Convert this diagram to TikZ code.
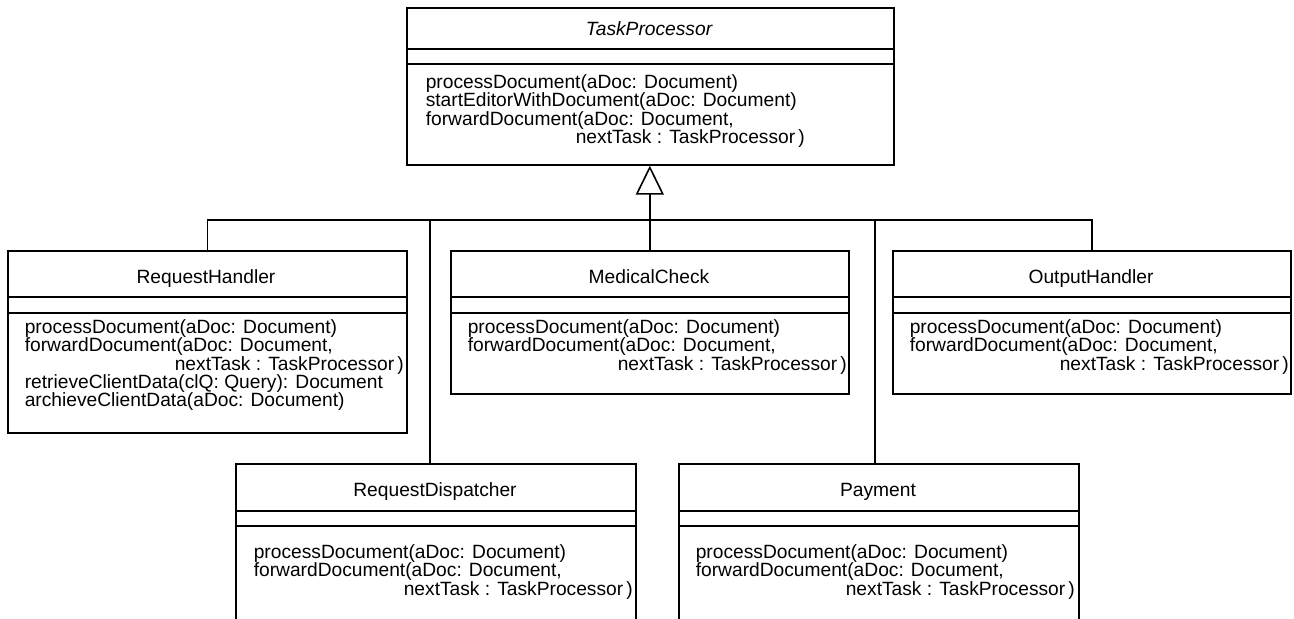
\documentclass[tikz,border=0pt]{standalone}
\usepackage{fontspec}
\setmainfont{Liberation Sans}
\usetikzlibrary{arrows.meta}

\newcommand{\umlfont}{\fontsize{9.6pt}{9.1pt}\selectfont}
\newcommand{\nexttask}{\hspace*{75pt}nextTask : TaskProcessor\,)}

\tikzset{
  umlclass/.style={draw, rectangle, inner sep=0pt, anchor=north west},
  umlname/.style={inner sep=0pt, anchor=base},
  umlops/.style={anchor=north west, align=left, inner sep=0pt},
  inherit/.style={-{Triangle[open, length=14.5pt, width=14pt]}},
}

\begin{document}
\begin{tikzpicture}[x=0.5pt, y=-0.5pt, line width=0.8pt, font=\umlfont]
    \useasboundingbox (0,0) rectangle (1294,618);
    \clip (0,0) rectangle (1294,618);
    % superclass
    \node[umlclass, minimum width=243.5pt, minimum height=78.5pt] (tp) at (406,7) {};
    \draw (tp.north west) ++(0,42) -- ++(487,0) ++(0,15) -- ++(-487,0);
    \node[umlname] (tpname) at (649,35) {\itshape TaskProcessor};
    \node[umlops] (tpops) at (425,74) {processDocument(aDoc: Document)\\startEditorWithDocument(aDoc: Document)\\forwardDocument(aDoc: Document,\\\nexttask};
    % subclasses, first row
    \node[umlclass, minimum width=199.5pt, minimum height=91pt] (rh) at (7,250) {};
    \draw (rh.north west) ++(0,47) -- ++(399,0) ++(0,16) -- ++(-399,0);
    \node[umlname] (rhname) at (206,283) {RequestHandler};
    \node[umlops] (rhops) at (24,319) {processDocument(aDoc: Document)\\forwardDocument(aDoc: Document,\\\nexttask\\retrieveClientData(clQ: Query): Document\\archieveClientData(aDoc: Document)};
    \node[umlclass, minimum width=199pt, minimum height=71.5pt] (mc) at (450,250) {};
    \draw (mc.north west) ++(0,47) -- ++(398,0) ++(0,16) -- ++(-398,0);
    \node[umlname] (mcname) at (649,283) {MedicalCheck};
    \node[umlops] (mcops) at (467,319) {processDocument(aDoc: Document)\\forwardDocument(aDoc: Document,\\\nexttask};
    \node[umlclass, minimum width=199pt, minimum height=71.5pt] (oh) at (892,250) {};
    \draw (oh.north west) ++(0,47) -- ++(398,0) ++(0,16) -- ++(-398,0);
    \node[umlname] (ohname) at (1091,283) {OutputHandler};
    \node[umlops] (ohops) at (909,319) {processDocument(aDoc: Document)\\forwardDocument(aDoc: Document,\\\nexttask};
    % subclasses, second row (cut at the bottom)
    \node[umlclass, minimum width=200pt, minimum height=90pt] (rd) at (235,463) {};
    \draw (rd.north west) ++(0,48) -- ++(400,0) ++(0,15) -- ++(-400,0);
    \node[umlname] (rdname) at (435,496) {RequestDispatcher};
    \node[umlops] (rdops) at (253,544) {processDocument(aDoc: Document)\\forwardDocument(aDoc: Document,\\\nexttask};
    \node[umlclass, minimum width=200pt, minimum height=90pt] (pay) at (678,463) {};
    \draw (pay.north west) ++(0,48) -- ++(400,0) ++(0,15) -- ++(-400,0);
    \node[umlname] (payname) at (878,496) {Payment};
    \node[umlops] (payops) at (695,544) {processDocument(aDoc: Document)\\forwardDocument(aDoc: Document,\\\nexttask};
    % generalisation
    \coordinate (bus) at (0,220);
    \draw[inherit] (mc.north) -- (mc.north |- tp.south);
    \draw (rh.north) |- (bus -| oh.north) -- (oh.north);
    \draw ([xshift=-3pt]rd.north) -- ([xshift=-3pt]rd.north |- bus);
    \draw ([xshift=-2pt]pay.north) -- ([xshift=-2pt]pay.north |- bus);
\end{tikzpicture}
\end{document}
